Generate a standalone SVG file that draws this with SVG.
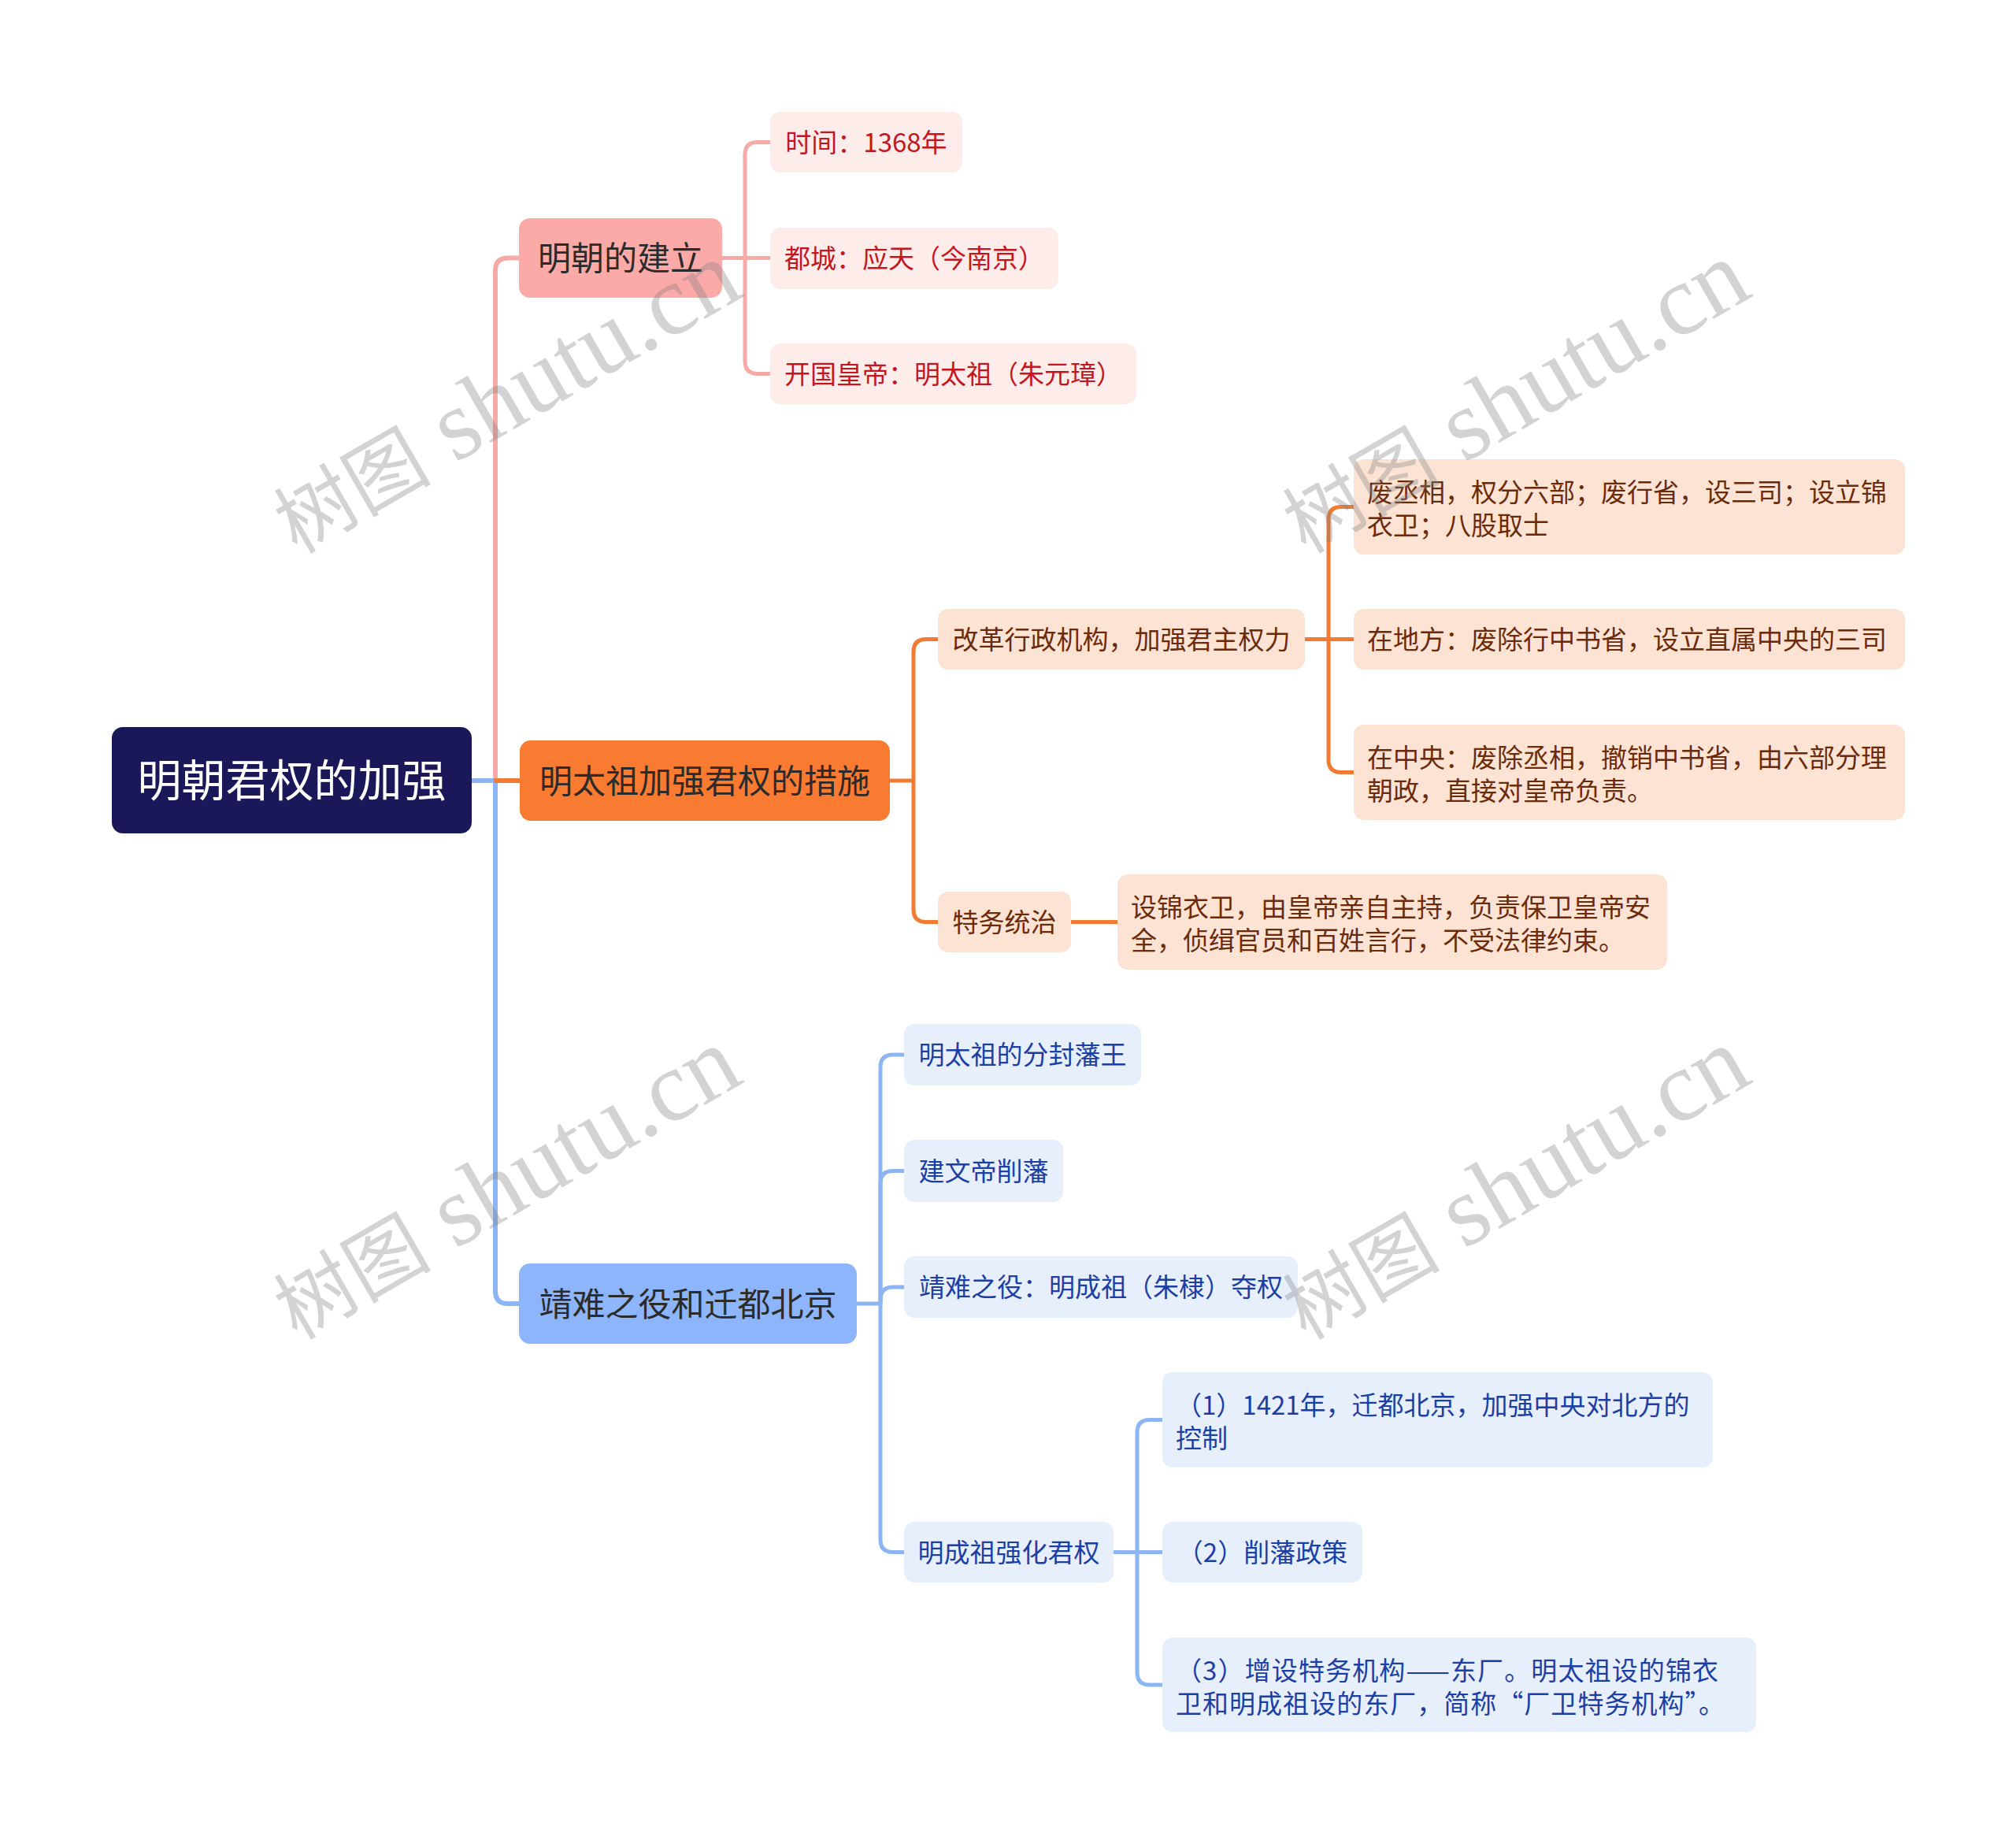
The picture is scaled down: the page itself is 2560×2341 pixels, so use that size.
<svg xmlns="http://www.w3.org/2000/svg" width="2560" height="2341" viewBox="0 0 2560 2341">
<style>
.t{font-family:"Noto Sans CJK SC","Noto Sans",sans-serif;}
.root{fill:#ffffff;font-size:56px;text-anchor:middle}
.l1{fill:#2b2b2b;font-size:42px;text-anchor:middle}
.l2{font-size:33px}
.mid{text-anchor:middle}
.pk{fill:#c4161c}
.or{fill:#6b2b0b}
.bl{fill:#1c3fa6}
.ln{fill:none;stroke-width:5}
.lr{fill:none;stroke-width:6}
.lp{stroke:#f6aaa8}
.lo{stroke:#f27a33}
.lb{stroke:#8db5f4}
.npk{fill:#feeceb}
.nor{fill:#fde3d4}
.nbl{fill:#e7effd}
.wm{fill:#808080;fill-opacity:0.35}
.wc{font-family:"Noto Sans CJK SC",sans-serif;font-size:100px}
.wl{font-family:"Liberation Serif","Noto Sans CJK SC",serif;font-size:127px}
</style>
<rect width="2560" height="2341" fill="#ffffff"/>
<g id="connectors">
  <path class="lr lp" d="M629,991 V343.5 Q629,327.5 645,327.5 H659"/>
  <path class="lr lb" d="M629,991 V1639 Q629,1655 645,1655 H659"/>
  <path class="lr lb" d="M599,991 H629"/>
  <path class="lr lo" d="M627,991 H660"/>
  <path class="ln lp" d="M917,327.5 H978"/>
  <path class="ln lp" d="M946,327.5 V196.5 Q946,180.5 962,180.5 H978"/>
  <path class="ln lp" d="M946,327.5 V458.5 Q946,474.5 962,474.5 H978"/>
  <path class="ln lo" d="M1130,991 H1160"/>
  <path class="ln lo" d="M1160,991 V827.5 Q1160,811.5 1176,811.5 H1191"/>
  <path class="ln lo" d="M1160,991 V1154.5 Q1160,1170.5 1176,1170.5 H1191"/>
  <path class="ln lo" d="M1657,811.5 H1719"/>
  <path class="ln lo" d="M1687,811.5 V659.5 Q1687,643.5 1703,643.5 H1719"/>
  <path class="ln lo" d="M1687,811.5 V964.5 Q1687,980.5 1703,980.5 H1719"/>
  <path class="ln lo" d="M1360,1170.5 H1419"/>
  <path class="ln lb" d="M1088,1655 H1118"/>
  <path class="ln lb" d="M1118,1655 V1355 Q1118,1339 1134,1339 H1148"/>
  <path class="ln lb" d="M1118,1655 V1502.5 Q1118,1486.5 1134,1486.5 H1148"/>
  <path class="ln lb" d="M1118,1655 V1650 Q1118,1634 1134,1634 H1148"/>
  <path class="ln lb" d="M1118,1655 V1954.5 Q1118,1970.5 1134,1970.5 H1148"/>
  <path class="ln lb" d="M1414,1970.5 H1476"/>
  <path class="ln lb" d="M1444,1970.5 V1818.5 Q1444,1802.5 1460,1802.5 H1476"/>
  <path class="ln lb" d="M1444,1970.5 V2123 Q1444,2139 1460,2139 H1476"/>
</g>
<g id="root">
  <rect x="142" y="923" width="457" height="135" rx="14" fill="#1b1859"/>
  <text class="t root" x="370.5" y="1011">明朝君权的加强</text>
</g>
<g id="n-jianli">
  <rect x="659" y="277" width="258" height="101" rx="14" fill="#fbaaa8"/>
  <text class="t l1" x="788" y="343">明朝的建立</text>
</g>
<g id="n-cuoshi">
  <rect x="660" y="940" width="470" height="102" rx="14" fill="#f97b31"/>
  <text class="t l1" x="895" y="1007">明太祖加强君权的措施</text>
</g>
<g id="n-jingnan">
  <rect x="659" y="1604" width="429" height="102" rx="14" fill="#8db5fb"/>
  <text class="t l1" x="873.5" y="1671">靖难之役和迁都北京</text>
</g>
<g id="n-shijian">
  <rect class="npk" x="978" y="142" width="244" height="77" rx="13"/>
  <text class="t l2 pk mid" x="1100" y="193">时间：1368年</text>
</g>
<g id="n-ducheng">
  <rect class="npk" x="978" y="289" width="366" height="78" rx="13"/>
  <text class="t l2 pk mid" x="1161" y="340">都城：应天（今南京）</text>
</g>
<g id="n-kaiguo">
  <rect class="npk" x="978" y="436" width="465" height="77" rx="13"/>
  <text class="t l2 pk mid" x="1210.5" y="487">开国皇帝：明太祖（朱元璋）</text>
</g>
<g id="n-gaige">
  <rect class="nor" x="1191" y="773" width="466" height="77" rx="13"/>
  <text class="t l2 or mid" x="1424" y="824">改革行政机构，加强君主权力</text>
</g>
<g id="n-fei">
  <rect class="nor" x="1719" y="583" width="700" height="121" rx="13"/>
  <text class="t l2 or" x="1736" y="637">废丞相，权分六部；废行省，设三司；设立锦</text>
  <text class="t l2 or" x="1736" y="679">衣卫；八股取士</text>
</g>
<g id="n-difang">
  <rect class="nor" x="1719" y="773" width="700" height="77" rx="13"/>
  <text class="t l2 or" x="1736" y="824">在地方：废除行中书省，设立直属中央的三司</text>
</g>
<g id="n-zhongyang">
  <rect class="nor" x="1719" y="920" width="700" height="121" rx="13"/>
  <text class="t l2 or" x="1736" y="974">在中央：废除丞相，撤销中书省，由六部分理</text>
  <text class="t l2 or" x="1736" y="1016">朝政，直接对皇帝负责。</text>
</g>
<g id="n-tewu">
  <rect class="nor" x="1191" y="1132" width="169" height="77" rx="13"/>
  <text class="t l2 or mid" x="1275.5" y="1183">特务统治</text>
</g>
<g id="n-jinyiwei">
  <rect class="nor" x="1419" y="1110" width="698" height="121" rx="13"/>
  <text class="t l2 or" x="1436" y="1164">设锦衣卫，由皇帝亲自主持，负责保卫皇帝安</text>
  <text class="t l2 or" x="1436" y="1206">全，侦缉官员和百姓言行，不受法律约束。</text>
</g>
<g id="n-fenfeng">
  <rect class="nbl" x="1148" y="1300" width="301" height="78" rx="13"/>
  <text class="t l2 bl mid" x="1298.5" y="1351">明太祖的分封藩王</text>
</g>
<g id="n-xuefan">
  <rect class="nbl" x="1148" y="1447" width="202" height="79" rx="13"/>
  <text class="t l2 bl mid" x="1249" y="1499">建文帝削藩</text>
</g>
<g id="n-duoquan">
  <rect class="nbl" x="1148" y="1595" width="500" height="78" rx="13"/>
  <text class="t l2 bl mid" x="1398" y="1646">靖难之役：明成祖（朱棣）夺权</text>
</g>
<g id="n-qianghua">
  <rect class="nbl" x="1148" y="1932" width="266" height="77" rx="13"/>
  <text class="t l2 bl mid" x="1281" y="1983">明成祖强化君权</text>
</g>
<g id="n-qiandu">
  <rect class="nbl" x="1476" y="1742" width="699" height="121" rx="13"/>
  <text class="t l2 bl" x="1493" y="1796">（1）1421年，迁都北京，加强中央对北方的</text>
  <text class="t l2 bl" x="1493" y="1838">控制</text>
</g>
<g id="n-zhengce">
  <rect class="nbl" x="1476" y="1932" width="254" height="77" rx="13"/>
  <text class="t l2 bl mid" x="1603" y="1983">（2）削藩政策</text>
</g>
<g id="n-dongchang">
  <rect class="nbl" x="1476" y="2079" width="754" height="120" rx="13"/>
  <text class="t l2 bl" x="1493" y="2133" textLength="689" lengthAdjust="spacing">（3）增设特务机构——东厂。明太祖设的锦衣</text>
  <text class="t l2 bl" x="1493" y="2175" textLength="697" lengthAdjust="spacing">卫和明成祖设的东厂，简称“厂卫特务机构”。</text>
</g>
<g id="watermarks" class="wm">
  <text transform="translate(377,704) rotate(-30)"><tspan class="wc">树图</tspan><tspan class="wl"> shutu.cn</tspan></text>
  <text transform="translate(1658,704) rotate(-30)"><tspan class="wc">树图</tspan><tspan class="wl"> shutu.cn</tspan></text>
  <text transform="translate(377,1702) rotate(-30)"><tspan class="wc">树图</tspan><tspan class="wl"> shutu.cn</tspan></text>
  <text transform="translate(1658,1702) rotate(-30)"><tspan class="wc">树图</tspan><tspan class="wl"> shutu.cn</tspan></text>
</g>
</svg>
